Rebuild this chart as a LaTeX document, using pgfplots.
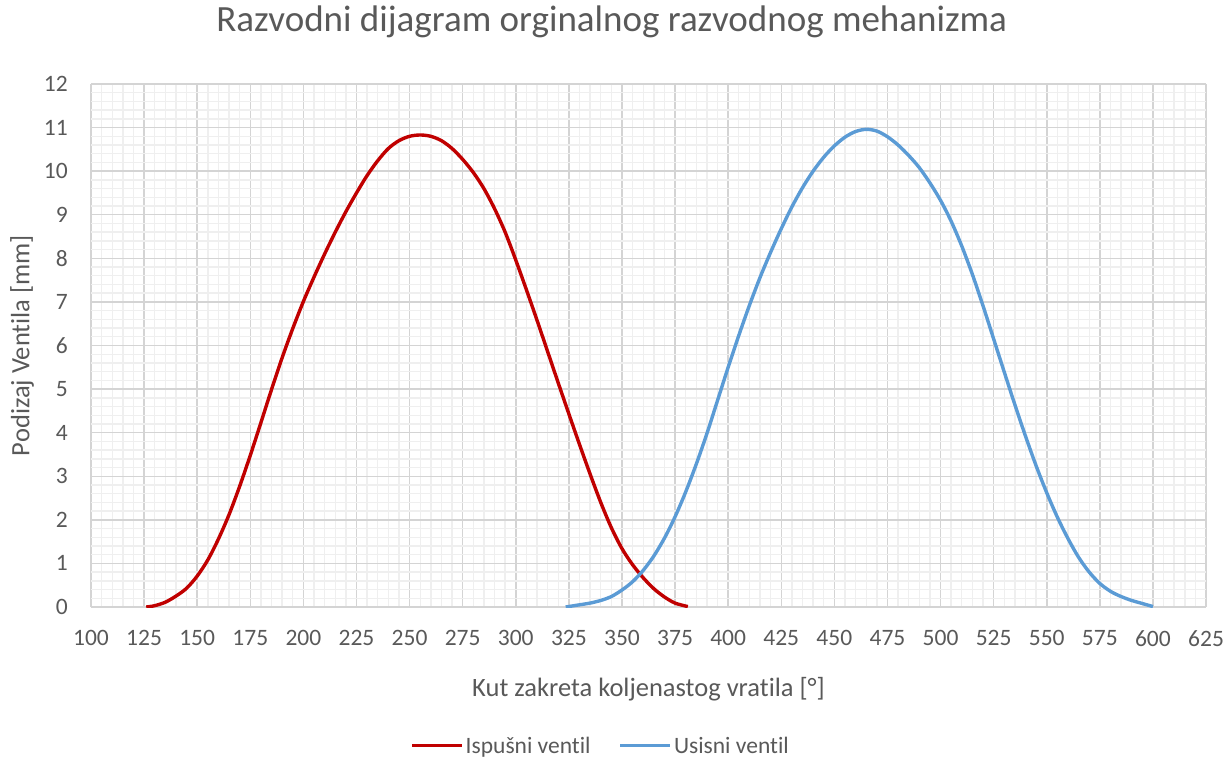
\documentclass[border=0pt]{standalone}
\usepackage{pgfplots}
\pgfplotsset{compat=1.18}
\usepackage{fontspec}
\setmainfont{Carlito}[Ligatures=NoCommon]
\definecolor{txt}{HTML}{595959}
\definecolor{majg}{HTML}{D4D4D4}
\definecolor{ming}{HTML}{EFEFEF}
\definecolor{axl}{HTML}{BFBFBF}
\definecolor{redc}{HTML}{C00000}
\definecolor{bluec}{HTML}{5B9BD5}
\begin{document}
\begin{tikzpicture}
\path[use as bounding box] (0,0) rectangle (1228pt,758pt);
\begin{axis}[
  at={(91pt,151pt)}, anchor=south west,
  scale only axis, width=1115pt, height=523pt,
  xmin=100, xmax=625, ymin=0, ymax=12,
  xtick={100,125,...,625}, ytick={0,1,...,12},
  minor x tick num=4, minor y tick num=4,
  grid=both,
  major grid style={draw=majg, line width=1.5pt},
  minor grid style={draw=ming, line width=1.4pt},
  axis line style={draw=none},
  major tick length=0pt, minor tick length=0pt,
  tick style={draw=none},
  /pgf/number format/assume math mode=true,
  tick label style={font=\fontsize{23.5}{26}\selectfont, text=txt},
  xticklabel style={anchor=north, inner sep=0pt, yshift=-23pt},
  yticklabel style={anchor=east, inner sep=0pt, xshift=-23pt},
  extra y ticks={0}, extra y tick labels={},
  extra y tick style={grid style={draw=axl, line width=1.5pt}},
  title={Razvodni dijagram orginalnog razvodnog mehanizma},
  title style={at={(0.467,1.088)}, anchor=base, yshift=0pt, font=\fontsize{37}{42}\selectfont, text=txt},
  xlabel={Kut zakreta koljenastog vratila [°]},
  xlabel style={at={(0.5,-0.172)}, anchor=base, font=\fontsize{26.5}{30}\selectfont, text=txt},
  ylabel={Podizaj Ventila [mm]},
  ylabel style={at={(-0.0619,0.5)}, anchor=center, font=\fontsize{26.5}{30}\selectfont, text=txt},
  legend style={at={(0.457,-0.265)}, anchor=center, draw=none, fill=none,
    font=\fontsize{23.5}{26}\selectfont, text=txt, legend columns=2,
    /tikz/every even column/.append style={column sep=26pt}},
  legend image code/.code={\draw[#1, line width=3.4pt] (0pt,0pt) -- (50pt,0pt);},
]
\addplot[redc, line width=3.4pt, line join=round, smooth, tension=0.5] coordinates {
(126,0) (130,0.03) (135,0.11) (140,0.25) (145,0.43) (150,0.71) (155,1.08) (160,1.56) (165,2.12) (170,2.77) (175,3.48) (180,4.23) (185,4.99) (190,5.72) (195,6.39) (200,7.01) (205,7.57) (210,8.10) (215,8.60) (220,9.07) (225,9.50) (230,9.90) (235,10.24) (240,10.52) (245,10.70) (250,10.80) (255,10.83) (260,10.80) (265,10.70) (270,10.52) (275,10.27) (280,9.97) (285,9.60) (290,9.14) (295,8.60) (300,7.96) (305,7.28) (310,6.58) (315,5.86) (320,5.14) (325,4.43) (330,3.73) (335,3.05) (340,2.40) (345,1.82) (350,1.34) (355,0.97) (360,0.67) (365,0.42) (370,0.23) (375,0.09) (381,0.01)
};
\addlegendentry{Ispušni ventil}
\addplot[bluec, line width=3.4pt, line join=round, smooth, tension=0.5] coordinates {
(323.5,0) (330,0.05) (335,0.09) (340,0.15) (345,0.24) (350,0.39) (355,0.58) (360,0.84) (365,1.17) (370,1.58) (375,2.07) (380,2.64) (385,3.28) (390,3.98) (395,4.74) (400,5.50) (405,6.23) (410,6.92) (415,7.56) (420,8.14) (425,8.68) (430,9.18) (435,9.62) (440,10.00) (445,10.32) (450,10.58) (455,10.78) (460,10.91) (465,10.96) (470,10.92) (475,10.79) (480,10.60) (485,10.36) (490,10.08) (495,9.73) (500,9.33) (505,8.85) (510,8.28) (515,7.63) (520,6.91) (525,6.15) (530,5.39) (535,4.64) (540,3.92) (545,3.24) (550,2.62) (555,2.06) (560,1.57) (565,1.14) (570,0.80) (575,0.54) (580,0.36) (585,0.24) (590,0.15) (595,0.08) (600,0.01)
};
\addlegendentry{Usisni ventil}
\end{axis}
\end{tikzpicture}
\end{document}
